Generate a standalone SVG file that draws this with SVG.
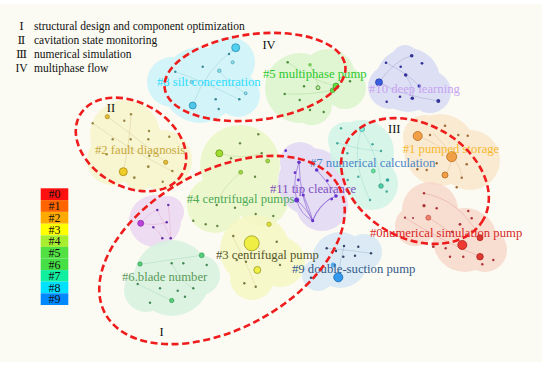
<svg xmlns="http://www.w3.org/2000/svg" width="550" height="367" viewBox="0 0 550 367">
<style>
text{font-family:"Liberation Serif","Times New Roman",serif}
.lg{font-size:11.5px;fill:#111}
.rn{font-size:11.5px;fill:#111;font-family:"DejaVu Serif","Liberation Serif",serif;text-anchor:middle}
.cl{font-size:12.7px}
.rm{font-size:12.5px;fill:#111;text-anchor:middle}
.lk{font-size:12px;fill:#111;text-anchor:middle}
.blob{opacity:0.85}
.ell{fill:none;stroke:#ee1c1c;stroke-width:2.6;stroke-dasharray:7 3.6}
.e{fill:none;stroke-width:0.5;stroke-opacity:0.35}
</style>
<rect width="550" height="367" fill="#ffffff"/>
<rect x="0" y="4" width="542" height="358" fill="#fbfbf3"/>

<!-- cluster blobs -->
<g id="blobs">
<g class="blob" fill="#cdf3fa"><circle cx="200" cy="85" r="38"/><circle cx="230" cy="62" r="25"/><circle cx="238" cy="95" r="22"/><circle cx="172" cy="82" r="25"/></g>
<g class="blob" fill="#dcf5cc"><circle cx="300" cy="88" r="35"/><circle cx="328" cy="76" r="27"/><circle cx="345" cy="88" r="21"/><circle cx="312" cy="105" r="20"/></g>
<g class="blob" fill="#d8dcf5"><circle cx="408" cy="80" r="32"/><circle cx="390" cy="87" r="22"/><circle cx="430" cy="92" r="21"/><circle cx="405" cy="58" r="13"/></g>
<g class="blob" fill="#f8f4cc"><circle cx="125" cy="135" r="35"/><circle cx="162" cy="160" r="30"/><circle cx="112" cy="160" r="25"/><circle cx="140" cy="172" r="18"/></g>
<g class="blob" fill="#eaf7c8"><circle cx="240" cy="165" r="40"/><circle cx="215" cy="205" r="28"/><circle cx="262" cy="200" r="26"/></g>
<g class="blob" fill="#f6f8c4"><circle cx="255" cy="250" r="35"/><circle cx="280" cy="262" r="25"/><circle cx="252" cy="278" r="22"/></g>
<g class="blob" fill="#e2d8f5"><circle cx="312" cy="182" r="34"/><circle cx="300" cy="162" r="20"/><circle cx="322" cy="205" r="26"/></g>
<g class="blob" fill="#d2f5e8"><circle cx="362" cy="152" r="32"/><circle cx="372" cy="184" r="26"/><circle cx="346" cy="140" r="18"/></g>
<g class="blob" fill="#fae8cc"><circle cx="440" cy="150" r="36"/><circle cx="470" cy="160" r="30"/><circle cx="425" cy="137" r="22"/></g>
<g class="blob" fill="#f8d8cc"><circle cx="430" cy="210" r="28"/><circle cx="465" cy="240" r="32"/><circle cx="485" cy="250" r="22"/><circle cx="415" cy="226" r="20"/></g>
<g class="blob" fill="#d6e8f6"><circle cx="340" cy="260" r="28"/><circle cx="364" cy="252" r="18"/><circle cx="318" cy="275" r="16"/></g>
<g class="blob" fill="#ecd8f2"><circle cx="155" cy="221" r="26"/><circle cx="168" cy="212" r="16"/></g>
<g class="blob" fill="#d8f2e0"><circle cx="172" cy="278" r="38"/><circle cx="146" cy="290" r="22"/><circle cx="200" cy="275" r="20"/></g>
</g>

<!-- connectors (links between keywords) -->
<g id="connectors">
<g class="e" stroke="#3399aa"><path d="M235.7 47.7 Q205 70 192.7 105.5"/><path d="M175.3 71.7 Q200 80 239.3 99.3"/><path d="M219.3 70.7 Q230 85 245.7 93.3"/></g>
<g class="e" stroke="#44aa33"><path d="M287.7 62.3 Q310 80 336 86"/><path d="M284.7 94 Q310 95 332.7 90.3"/><path d="M310 64.7 Q318 80 318 87.7"/></g>
<g class="e" stroke="#333399"><path d="M379 82.3 Q395 60 411.7 55.7"/><path d="M379 82.3 Q400 95 438.3 101"/><path d="M405.7 75 Q415 90 412.3 98.3"/><path d="M386 62.7 Q410 75 419.3 86"/></g>
<g class="e" stroke="#aa8833"><path d="M123.3 171.7 Q130 140 131 114.3"/><path d="M107.3 116.7 Q140 140 165.7 162.3"/><path d="M92.7 123.3 Q130 150 173.3 171.7"/></g>
<g class="e" stroke="#669933"><path d="M219.3 153.3 Q240 160 261.7 153.3"/><path d="M240.7 172.3 Q220 190 216.7 205"/></g>
<g class="e" stroke="#999933"><path d="M251.7 243.3 Q270 255 280 265"/><path d="M232.3 236 Q250 270 255.7 287.3"/></g>
<g stroke="#7a4fd0" stroke-width="0.7" fill="none" stroke-opacity="0.8"><path d="M296.7 200 Q300 214 312.7 220.7"/><path d="M296.7 200 Q306 208 312.7 220.7"/><path d="M299 162.3 Q292 182 296.7 200"/><path d="M299 162.3 Q300 200 312.7 220.7"/><path d="M336 196 Q318 204 312.7 220.7"/><path d="M330 198.3 Q318 208 312.7 220.7"/><path d="M316.7 170 Q330 185 336 196"/><path d="M303.3 195 Q310 210 312.7 220.7"/></g>
<g class="e" stroke="#33aa99"><path d="M361.7 129 Q350 160 370 200"/><path d="M361.7 129 Q380 160 381 186"/><path d="M336.7 142.7 Q360 150 381 151"/></g>
<g class="e" stroke="#bb7733"><path d="M417.7 135.7 Q440 145 451.7 156.7"/><path d="M451.7 156.7 Q450 170 445 175"/><path d="M433.3 133.3 Q460 160 462.3 177.7"/></g>
<g class="e" stroke="#bb3333"><path d="M428.3 217.7 Q450 230 462.3 245"/><path d="M424 193.3 Q460 200 480 237.7"/><path d="M405 217.7 Q440 240 480 256.7"/></g>
<g class="e" stroke="#335588"><path d="M338.3 277.3 Q340 260 344 246"/><path d="M326.7 248.3 Q350 250 371 253.3"/></g>
<g stroke="#dd88bb" stroke-width="0.5" fill="none" stroke-opacity="0.6"><path d="M140.7 223.3 Q150 212 157.3 210"/><path d="M140.7 223.3 Q155 226 166.7 222.3"/><path d="M157.3 210 Q165 225 170.7 238.3"/><path d="M153.3 227.3 Q160 232 162.3 238.3"/><path d="M168.3 205 Q170 220 170.7 238.3"/></g>
<g class="e" stroke="#44aa66"><path d="M140 264.3 Q170 260 201.7 255.3"/><path d="M137.7 284 Q160 295 171.7 300.7"/><path d="M171.7 263.3 Q180 280 193.3 289"/></g>
</g>

<!-- nodes per cluster -->
<g id="cluster-8" fill="#3a8899">
<circle cx="235.7" cy="47.7" r="4" fill="#4fd0f0" stroke="#2a8fae" stroke-width="0.8"/>
<circle cx="192.7" cy="105.5" r="3.5" fill="#4fc6ea" stroke="#2a8fae" stroke-width="0.8"/>
<circle cx="219.3" cy="70.7" r="1.8" fill="#8fdcea" stroke="#3a99aa" stroke-width="0.6"/>
<circle cx="232.7" cy="62.3" r="1.6" fill="#8fdcea" stroke="#3a99aa" stroke-width="0.6"/>
<circle cx="191.7" cy="82" r="1.6" fill="#8fdcea" stroke="#3a99aa" stroke-width="0.6"/>
<circle cx="245.7" cy="93.3" r="1.5" fill="#8fdcea" stroke="#3a99aa" stroke-width="0.6"/>
<circle cx="229" cy="54" r="1.2"/><circle cx="175.3" cy="71.7" r="1.2"/><circle cx="202.7" cy="66.7" r="1.2"/><circle cx="215.7" cy="99.3" r="1.3"/><circle cx="239.3" cy="99.3" r="1.3"/><circle cx="218.7" cy="109" r="1.2"/>
<text class="cl" x="157" y="86" fill="#2fdcff">#8 silt concentration</text>
</g>

<g id="cluster-5" fill="#4a8a3a">
<circle cx="336" cy="86" r="3" fill="#66dd44" stroke="#3a9a22" stroke-width="0.7"/>
<circle cx="332.7" cy="90.3" r="2.4" fill="#66dd44" stroke="#3a9a22" stroke-width="0.7"/>
<circle cx="318" cy="87.7" r="2" fill="#bde8a0" stroke="#3a8a22" stroke-width="0.8"/>
<circle cx="310" cy="64.7" r="1.8" fill="#77cc55"/>
<circle cx="287.7" cy="62.3" r="1.2"/><circle cx="304" cy="86.3" r="1.2"/><circle cx="350" cy="81.3" r="1.2"/><circle cx="284.7" cy="94" r="1.2"/><circle cx="299.7" cy="100" r="1.2"/><circle cx="310" cy="110" r="1.2"/><circle cx="323.7" cy="112" r="1.2"/>
<text class="cl" x="263" y="78" fill="#2ec82e">#5 multiphase pump</text>
</g>

<g id="cluster-10" fill="#333399">
<circle cx="379" cy="82.3" r="3.5" fill="#3a5ee0" stroke="#223399" stroke-width="0.7"/>
<circle cx="386" cy="62.7" r="1.3"/><circle cx="400.7" cy="66.7" r="1.3"/><circle cx="411.7" cy="55.7" r="1.8"/><circle cx="422" cy="63.3" r="1.4"/><circle cx="405.7" cy="75" r="1.8"/><circle cx="419.3" cy="86" r="1.8"/><circle cx="412.3" cy="98.3" r="1.8"/><circle cx="400" cy="96.7" r="1.3"/><circle cx="386.7" cy="101.7" r="1.3"/><circle cx="438.3" cy="101" r="2"/>
<text class="cl" x="369" y="93" fill="#c8a2f2">#10 deep learning</text>
</g>

<g id="cluster-2" fill="#998844">
<circle cx="123.3" cy="171.7" r="4" fill="#f0cc2a" stroke="#aa8811" stroke-width="0.8"/>
<circle cx="107.3" cy="116.7" r="2.2" fill="#e0bb33" stroke="#aa8822" stroke-width="0.6"/>
<circle cx="165.7" cy="162.3" r="2.2" fill="#e0bb33" stroke="#aa8822" stroke-width="0.6"/>
<circle cx="124.3" cy="120.7" r="1.2"/><circle cx="131" cy="114.3" r="1.2"/><circle cx="92.7" cy="123.3" r="1.2"/><circle cx="149" cy="131" r="1.2"/><circle cx="112.7" cy="139.3" r="1.2"/><circle cx="130.7" cy="139.3" r="1.2"/><circle cx="148.3" cy="139.3" r="1.2"/><circle cx="169.3" cy="136.7" r="1.2"/><circle cx="148.3" cy="166.7" r="1.4"/><circle cx="172.3" cy="171" r="1.3"/><circle cx="134.3" cy="177.7" r="1.4"/><circle cx="106.7" cy="154.3" r="1.2"/><circle cx="149.3" cy="155.7" r="1.2"/><circle cx="162.7" cy="181.7" r="1.2"/>
<text class="cl" x="95" y="153.5" fill="#c8a83a">#2 fault diagnosis</text>
</g>

<g id="cluster-4" fill="#668844">
<circle cx="219.3" cy="153.3" r="3.5" fill="#a0dd33" stroke="#669911" stroke-width="0.8"/>
<circle cx="240.7" cy="172.3" r="2" fill="#a0d844" stroke="#669922" stroke-width="0.6"/>
<circle cx="267.7" cy="161" r="2" fill="#a0d844" stroke="#669922" stroke-width="0.6"/>
<circle cx="269" cy="224.3" r="2.2" fill="#e0e033" stroke="#999922" stroke-width="0.6"/>
<circle cx="240" cy="143.3" r="1.2"/><circle cx="258.3" cy="134.3" r="1.2"/><circle cx="261.7" cy="153.3" r="1.2"/><circle cx="231" cy="158.3" r="1.2"/><circle cx="255" cy="176.7" r="1.2"/><circle cx="216.7" cy="205" r="1.2"/><circle cx="235" cy="207.7" r="1.2"/><circle cx="255.7" cy="214" r="1.2"/><circle cx="193.3" cy="220.7" r="1.2"/><circle cx="205.7" cy="224.3" r="1.2"/><circle cx="217.3" cy="226" r="1.2"/><circle cx="273.3" cy="216" r="1.2"/>
<text class="cl" x="186.7" y="203" fill="#4caa55">#4 centrifugal pumps</text>
</g>

<g id="cluster-3" fill="#777744">
<circle cx="251.7" cy="243.3" r="7.5" fill="#eeee44" stroke="#999922" stroke-width="0.8"/>
<circle cx="257.3" cy="270" r="3.5" fill="#eeee44" stroke="#999922" stroke-width="0.8"/>
<circle cx="233.3" cy="236" r="1.2"/><circle cx="236.7" cy="260" r="1.2"/><circle cx="246" cy="261.7" r="1.2"/><circle cx="244.3" cy="283.3" r="1.2"/><circle cx="255.7" cy="286.7" r="1.2"/><circle cx="280" cy="265" r="1.2"/><circle cx="276.7" cy="241.7" r="1.2"/>
<text class="cl" x="216" y="259" fill="#55552a">#3 centrifugal pump</text>
</g>

<g id="cluster-11" fill="#6633cc">
<circle cx="285.7" cy="150.7" r="1.4"/><circle cx="299" cy="162.3" r="1.8"/><circle cx="316.7" cy="170" r="1.8"/><circle cx="295" cy="172.7" r="1.4"/><circle cx="298.3" cy="180" r="1.4"/><circle cx="327.3" cy="180.7" r="1.4"/><circle cx="296.7" cy="200" r="2.5"/><circle cx="303.3" cy="195" r="1.5"/><circle cx="336" cy="196" r="1.8"/><circle cx="331.7" cy="199" r="1.4"/><circle cx="312.7" cy="220.7" r="1.6"/>
<text class="cl" x="270" y="192.5" fill="#7f4fc0">#11 tip clearance</text>
</g>

<g id="cluster-7" fill="#44aa99">
<circle cx="362" cy="129" r="2.5" fill="#8ff0e0" stroke="#33aa99" stroke-width="0.8"/>
<circle cx="373.3" cy="171" r="2" fill="#66dd99" stroke="#33aa77" stroke-width="0.6"/>
<circle cx="381" cy="186" r="2.3" fill="#55ccaa" stroke="#229977" stroke-width="0.7"/>
<circle cx="387.5" cy="180" r="1.8" fill="#33aa99"/>
<circle cx="341" cy="128.3" r="1.2"/><circle cx="337.3" cy="143.3" r="1.2"/><circle cx="372.5" cy="144.3" r="1.2"/><circle cx="381" cy="151" r="1.2"/><circle cx="347.3" cy="153.3" r="1.2"/><circle cx="358.3" cy="176.7" r="1.2"/><circle cx="386.7" cy="191.5" r="1.3"/><circle cx="370" cy="200" r="1.2"/><circle cx="347.7" cy="180" r="1.2"/>
<text class="cl" x="310" y="167" fill="#4a86c8">#7 numerical calculation</text>
</g>

<g id="cluster-1" fill="#a06a3a">
<circle cx="417.7" cy="136" r="4.5" fill="#f2a048" stroke="#b86a1a" stroke-width="0.8"/>
<circle cx="451.7" cy="156.7" r="5" fill="#f2a048" stroke="#b86a1a" stroke-width="0.8"/>
<circle cx="445" cy="175" r="3" fill="#f2a048" stroke="#b86a1a" stroke-width="0.8"/>
<circle cx="445" cy="125.7" r="1.3"/><circle cx="430" cy="135" r="1.2"/><circle cx="458.3" cy="135" r="1.2"/><circle cx="467.7" cy="135.7" r="1.2"/><circle cx="466.7" cy="164.3" r="1.3"/><circle cx="461.7" cy="177.7" r="1.2"/><circle cx="417.3" cy="169.3" r="1.2"/><circle cx="426.7" cy="170" r="1.2"/><circle cx="456.7" cy="187.3" r="1.2"/><circle cx="436.7" cy="163.3" r="1.2"/>
<text class="cl" x="402.7" y="153" fill="#f6b82e">#1 pumped storage</text>
</g>

<g id="cluster-0" fill="#aa3333">
<circle cx="462.3" cy="245" r="4.5" fill="#ee3a33" stroke="#aa1a11" stroke-width="0.8"/>
<circle cx="480" cy="237.7" r="3" fill="#dd3a33" stroke="#aa1a11" stroke-width="0.7"/>
<circle cx="480" cy="256.7" r="3.3" fill="#dd3a33" stroke="#aa1a11" stroke-width="0.7"/>
<circle cx="428.3" cy="217.7" r="2.5" fill="#ee8070" stroke="#bb4433" stroke-width="0.6"/>
<circle cx="424" cy="205.7" r="1.6"/><circle cx="424" cy="193.3" r="1.2"/><circle cx="436.7" cy="208.3" r="1.2"/><circle cx="460" cy="224.3" r="1.4"/><circle cx="468.3" cy="211" r="1.2"/><circle cx="471.7" cy="218.3" r="1.2"/><circle cx="433.3" cy="246.7" r="1.4"/><circle cx="445.7" cy="248.3" r="1.2"/><circle cx="450" cy="256.7" r="1.2"/><circle cx="463.3" cy="256.7" r="1.2"/><circle cx="493.3" cy="260" r="1.2"/><circle cx="482.3" cy="264.3" r="1.2"/><circle cx="405" cy="217.7" r="1.1"/><circle cx="452.3" cy="231.7" r="1.3"/><circle cx="413" cy="218" r="1"/>
<text class="cl" x="370" y="236.5" fill="#d82828">#0numerical simulation pump</text>
</g>

<g id="cluster-9" fill="#334466">
<circle cx="338.3" cy="277.3" r="4.5" fill="#3399ee" stroke="#1166aa" stroke-width="0.8"/>
<circle cx="333.3" cy="265" r="2.5" fill="#55aaee"/>
<circle cx="326.7" cy="248.3" r="1.2"/><circle cx="336" cy="251" r="1.2"/><circle cx="344" cy="246" r="1.2"/><circle cx="358.3" cy="246.7" r="1.2"/><circle cx="371" cy="253.3" r="1.2"/><circle cx="343.3" cy="256.7" r="1.2"/><circle cx="355" cy="255.7" r="1.2"/><circle cx="311" cy="277.7" r="1.2"/>
<text class="cl" x="292" y="272.5" fill="#335a8a">#9 double-suction pump</text>
</g>

<g id="cluster-purple" fill="#6633aa">
<circle cx="140.7" cy="223.3" r="3" fill="#bb44dd" stroke="#882299" stroke-width="0.7"/>
<circle cx="157.3" cy="210" r="1.3"/><circle cx="168.3" cy="205" r="1.2"/><circle cx="166.7" cy="222.3" r="1.3"/><circle cx="153.3" cy="227.3" r="1.2"/><circle cx="162.3" cy="238.3" r="1.3"/><circle cx="170.7" cy="238.3" r="1.3"/>
</g>

<g id="cluster-6" fill="#448855">
<circle cx="140" cy="264" r="2.2" fill="#55cc77" stroke="#339955" stroke-width="0.6"/>
<circle cx="201.7" cy="255.3" r="2.5" fill="#55cc77" stroke="#339955" stroke-width="0.6"/>
<circle cx="171.7" cy="300.5" r="2.2" fill="#55cc77" stroke="#339955" stroke-width="0.6"/>
<circle cx="171.7" cy="263.3" r="1.2"/><circle cx="183.3" cy="263.3" r="1.2"/><circle cx="206.7" cy="265" r="1.2"/><circle cx="137.7" cy="284" r="1.2"/><circle cx="160" cy="288.3" r="1.2"/><circle cx="177.7" cy="290.7" r="1.2"/><circle cx="193.3" cy="288.3" r="1.2"/><circle cx="185" cy="296.7" r="1.2"/><circle cx="150" cy="302.7" r="1.2"/>
<text class="cl" x="122" y="281" fill="#5a9a5a">#6.blade number</text>
</g>

<!-- research-direction ellipses -->
<g id="groups">
<ellipse class="ell" cx="255" cy="77" rx="91" ry="43" transform="rotate(-7 255 77)"/>
<ellipse class="ell" cx="131" cy="144.5" rx="59" ry="42" transform="rotate(30 131 144.5)"/>
<ellipse class="ell" cx="415" cy="181" rx="78.5" ry="57" transform="rotate(29.5 415 181)"/>
<ellipse class="ell" cx="222" cy="250" rx="133" ry="79" transform="rotate(-28.6 222 250)"/>
<text class="rm" x="269" y="48.5">IV</text>
<text class="rm" x="111" y="111.5">II</text>
<text class="rm" x="394.3" y="132.5">III</text>
<text class="rm" x="161.5" y="336">I</text>
</g>

<!-- top-left legend -->
<g id="legend-text">
<text class="rn" x="21.5" y="30">Ⅰ</text><text class="lg" x="34" y="30">structural design and component optimization</text>
<text class="rn" x="21.5" y="44.3">Ⅱ</text><text class="lg" x="34" y="44.3">cavitation state monitoring</text>
<text class="rn" x="21.5" y="57.8">Ⅲ</text><text class="lg" x="34" y="57.8">numerical simulation</text>
<text class="rm" x="21.5" y="71.7" style="font-size:11.5px">IV</text><text class="lg" x="34" y="71.7">multiphase flow</text>
</g>

<!-- colour key -->
<g id="color-key">
<rect x="40.7" y="188.3" width="27.6" height="11.8" fill="#ff1010"/>
<rect x="40.7" y="200.1" width="27.6" height="11.8" fill="#ff6400"/>
<rect x="40.7" y="211.9" width="27.6" height="11.8" fill="#ffaa00"/>
<rect x="40.7" y="223.7" width="27.6" height="11.6" fill="#ffff00"/>
<rect x="40.7" y="235.3" width="27.6" height="11.6" fill="#a8ee30"/>
<rect x="40.7" y="246.9" width="27.6" height="11.6" fill="#52e042"/>
<rect x="40.7" y="258.5" width="27.6" height="11.6" fill="#46e046"/>
<rect x="40.7" y="270.1" width="27.6" height="11.6" fill="#10eea0"/>
<rect x="40.7" y="281.7" width="27.6" height="11.6" fill="#00e0ff"/>
<rect x="40.7" y="293.3" width="27.6" height="11.7" fill="#0088ff"/>
<text class="lk" x="54.5" y="198.4">#0</text>
<text class="lk" x="54.5" y="210.2">#1</text>
<text class="lk" x="54.5" y="222">#2</text>
<text class="lk" x="54.5" y="233.7">#3</text>
<text class="lk" x="54.5" y="245.3">#4</text>
<text class="lk" x="54.5" y="256.9">#5</text>
<text class="lk" x="54.5" y="268.5">#6</text>
<text class="lk" x="54.5" y="280.1">#7</text>
<text class="lk" x="54.5" y="291.7">#8</text>
<text class="lk" x="54.5" y="303.3">#9</text>
</g>
</svg>
